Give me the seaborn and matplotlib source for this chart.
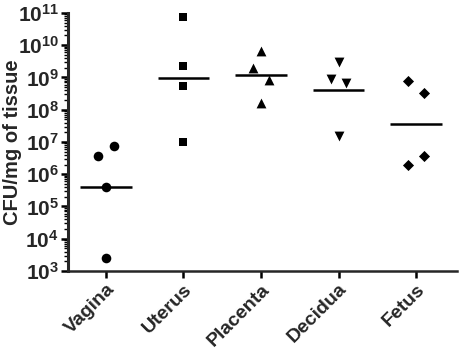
import numpy as np
import pandas as pd
import matplotlib
matplotlib.use("Agg")
import matplotlib.pyplot as plt
import seaborn as sns
from matplotlib.ticker import LogLocator, FuncFormatter, NullFormatter

# --- data (CFU/mg of tissue) ---
tissues = ["Vagina", "Uterus", "Placenta", "Decidua", "Fetus"]
vagina = [7.7e6, 3.7e6, 4.0e5, 2.5e3]
uterus = [7.7e10, 2.3e9, 5.4e8, 1.0e7]
placenta = [6.8e9, 2.0e9, 8.4e8, 1.6e8]
decidua = [3.0e9, 8.8e8, 6.6e8, 1.5e7]
fetus = [8.0e8, 3.3e8, 3.8e6, 1.9e6]
values = [vagina, uterus, placenta, decidua, fetus]

# horizontal spread of overlapping points (category units)
spread = [[0.1, -0.1, 0, 0],
          [0, 0, 0, 0],
          [0, -0.1, 0.1, 0],
          [0, -0.1, 0.1, 0],
          [-0.1, 0.1, 0.1, -0.1]]
markers = ["o", "s", "^", "v", "D"]
msizes = [48, 40, 50, 50, 32]

rows = []
for i, (t, vals) in enumerate(zip(tissues, values)):
    for v, d in zip(vals, spread[i]):
        rows.append({"tissue": t, "cfu": v, "pos": i + d})
df = pd.DataFrame(rows)

sns.set_theme(style="ticks")
plt.rcParams["font.family"] = ["Liberation Sans", "DejaVu Sans"]
plt.rcParams["mathtext.fontset"] = "custom"
plt.rcParams["mathtext.bf"] = "Liberation Sans:bold"
plt.rcParams["mathtext.rm"] = "Liberation Sans:bold"

fig = plt.figure(figsize=(4.59, 3.54), dpi=100)
ax = fig.add_axes([0.148, 0.2345, 0.848, 0.729])

for i, t in enumerate(tissues):
    sub = df[df["tissue"] == t]
    sns.scatterplot(data=sub, x="pos", y="cfu", marker=markers[i], s=msizes[i],
                    color="black", edgecolor="black", linewidth=0, ax=ax, zorder=3)
    gmean = 10 ** np.mean(np.log10(sub["cfu"]))
    ax.hlines(gmean, i - 0.33, i + 0.33, color="black", lw=1.8, zorder=2)

ax.set_yscale("log")
ax.set_ylim(1e3, 1e11)
ax.set_xlim(-0.49, 4.53)
ax.yaxis.set_major_locator(LogLocator(base=10, numticks=20))
ax.yaxis.set_minor_locator(LogLocator(base=10, subs=np.arange(2, 10), numticks=20))
ax.yaxis.set_minor_formatter(NullFormatter())
ax.yaxis.set_major_formatter(FuncFormatter(lambda v, p: r"$\mathbf{10^{%d}}$" % round(np.log10(v))))

ax.set_xticks(range(len(tissues)))
ax.set_xticklabels(tissues, rotation=45, ha="right", rotation_mode="anchor",
                   fontsize=14, fontweight="bold")
ax.set_xlabel("")
ax.set_ylabel("CFU/mg of tissue", fontsize=14.5, fontweight="bold")
ax.yaxis.set_label_coords(-0.117, 0.5)

for lab in ax.get_yticklabels():
    lab.set_fontsize(15)

sns.despine(ax=ax)
ax.spines["left"].set_linewidth(2.2)
ax.spines["bottom"].set_linewidth(1.8)
ax.tick_params(axis="y", which="major", length=5, width=1.8, pad=1.5, color="black")
ax.tick_params(axis="y", which="minor", length=3, width=1.0, color="black")
ax.tick_params(axis="x", length=5, width=1.8, pad=2, color="black")

fig.savefig("out.png", dpi=100)
